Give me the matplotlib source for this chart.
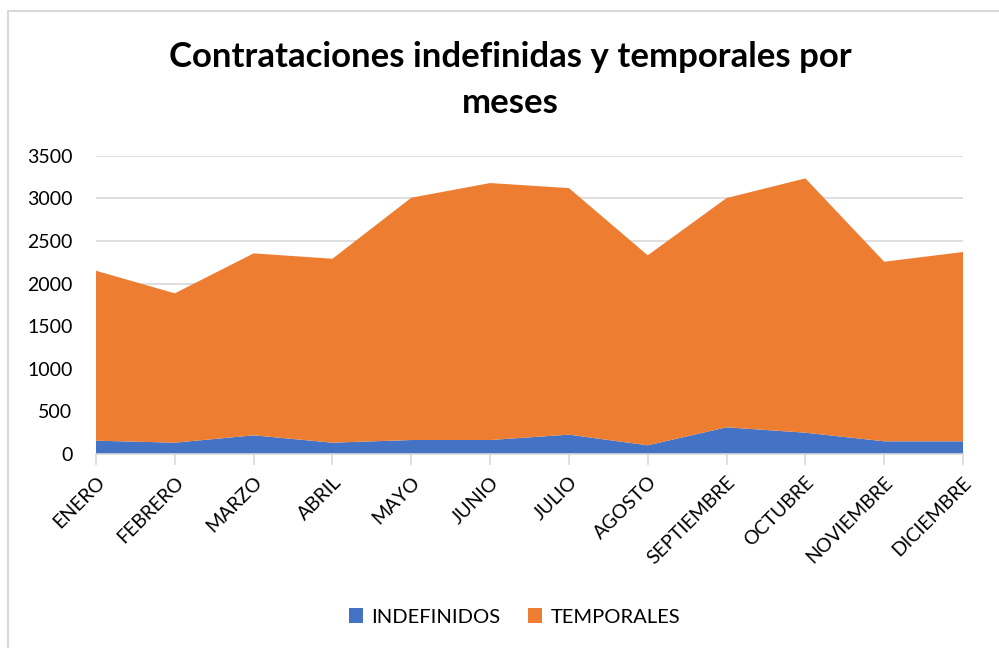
import matplotlib.pyplot as plt
import numpy as np
from matplotlib.patches import Rectangle

plt.rcParams["font.family"] = ["Lato", "DejaVu Sans"]

# Data
meses = ["ENERO", "FEBRERO", "MARZO", "ABRIL", "MAYO", "JUNIO", "JULIO",
         "AGOSTO", "SEPTIEMBRE", "OCTUBRE", "NOVIEMBRE", "DICIEMBRE"]
indefinidos = [156, 133, 219, 133, 164, 164, 227, 102, 313, 250, 149, 149]
temporales = [1994, 1752, 2135, 2158, 2843, 3015, 2893, 2229, 2690, 2984, 2107, 2221]

color_ind = "#4472C4"
color_tmp = "#ED7D31"
grid_color = "#D9D9D9"

fig = plt.figure(figsize=(9.99, 6.48), dpi=100)
ax = fig.add_axes([96 / 999, 1 - 454 / 648, (963 - 96) / 999, (454 - 155.7) / 648])

x = np.arange(len(meses))
ax.stackplot(x, indefinidos, temporales, colors=[color_ind, color_tmp],
             labels=["INDEFINIDOS", "TEMPORALES"], zorder=2)

ax.set_xlim(0, len(meses) - 1)
ax.set_ylim(0, 3500)
ax.set_yticks(np.arange(0, 3501, 500))
ax.grid(axis="y", color=grid_color, lw=1.2, zorder=0)
ax.set_axisbelow(True)

for side in ["top", "right", "left"]:
    ax.spines[side].set_visible(False)
ax.spines["bottom"].set_color(grid_color)
ax.spines["bottom"].set_linewidth(1.2)
ax.spines["bottom"].set_zorder(3)

ax.set_xticks(x)
ax.set_xticklabels(meses, rotation=45, ha="right", rotation_mode="anchor",
                   fontsize=14)
ax.tick_params(axis="x", length=8, color=grid_color, width=1.2, pad=6)
ax.tick_params(axis="y", length=0, labelsize=14, pad=17)

fig.text(0.511, 1 - 57 / 648, "Contrataciones indefinidas y temporales por",
         ha="center", va="center", fontsize=25, fontweight="bold")
fig.text(0.511, 1 - 103 / 648, "meses",
         ha="center", va="center", fontsize=25, fontweight="bold")

fig.legend(loc="center", bbox_to_anchor=(0.515, 1 - 617 / 648), ncol=2,
           frameon=False, fontsize=14.5, handlelength=0.7, handleheight=0.7,
           handletextpad=0.4, columnspacing=1.4)

# chart border
fig.patches.append(Rectangle((8 / 999, -0.1), 1.2, 1 - 11 / 648 + 0.1,
                             transform=fig.transFigure, fill=False,
                             edgecolor=grid_color, lw=1.5))

fig.savefig("out.png", dpi=100)
